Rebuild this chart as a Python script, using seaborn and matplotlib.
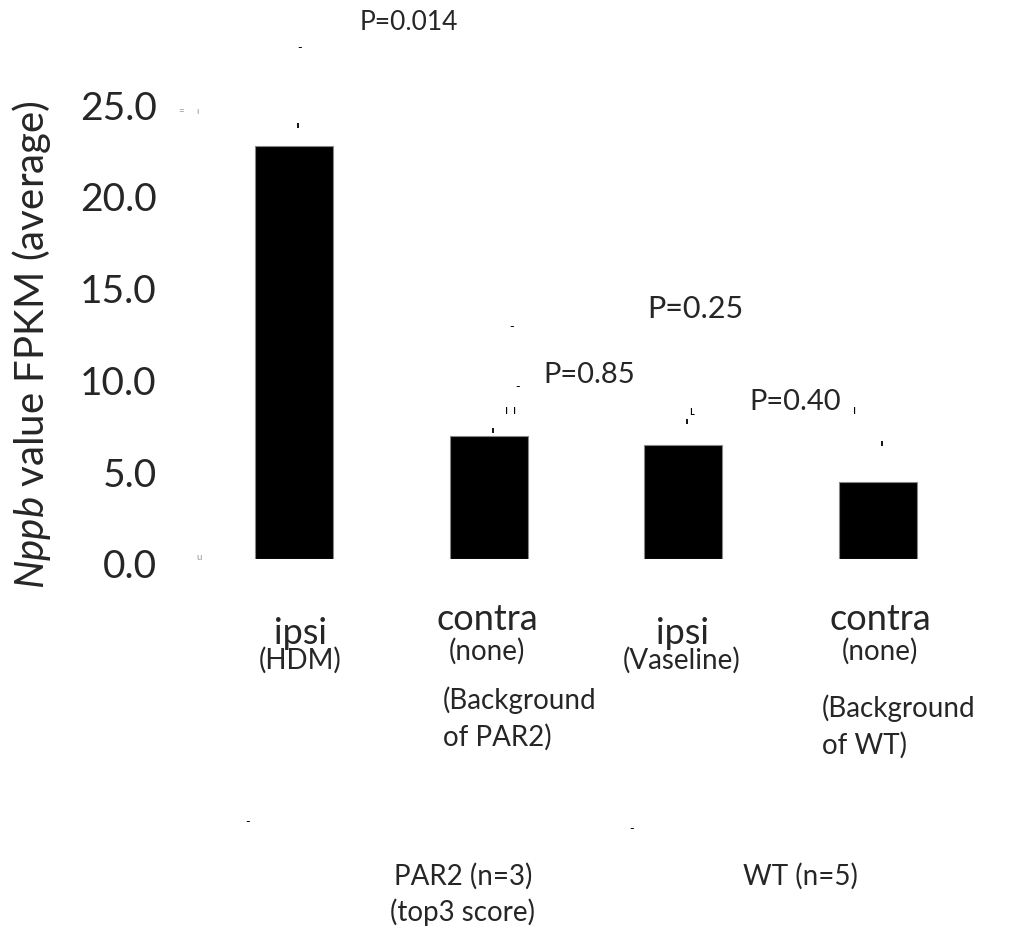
import numpy as np
import pandas as pd
import matplotlib
matplotlib.use("Agg")
import matplotlib.pyplot as plt
import matplotlib.transforms as mtransforms
import seaborn as sns

# dados
grupos = ["ipsi_HDM", "contra_PAR2", "ipsi_Vas", "contra_WT"]
valores = [22.5, 6.7, 6.2, 4.2]
erro_topo = [23.6, 7.0, 7.5, 6.3]
rotulo_principal = ["ipsi", "contra", "ipsi", "contra"]
rotulo_sub = ["(HDM)", "(none)", "(Vaseline)", "(none)"]
p_textos = ["P=0.014", "P=0.85", "P=0.25", "P=0.40"]
yticks = [0, 5, 10, 15, 20, 25]

df = pd.DataFrame({"grupo": grupos, "valor": valores})

sns.set_theme(style="white")
plt.rcParams["font.family"] = ["Lato", "DejaVu Sans"]
plt.rcParams["mathtext.fontset"] = "custom"
plt.rcParams["mathtext.rm"] = "Lato"
plt.rcParams["mathtext.it"] = "Lato:italic"

W, H = 1014, 936
fig = plt.figure(figsize=(W / 100, H / 100), dpi=100)
ax = fig.add_axes([197 / W, 1 - 559 / H, 778 / W, 550.8 / H])

def px(x, y):
    return x / W, 1 - y / H

sns.barplot(data=df, x="grupo", y="valor", color="black", width=0.4,
            edgecolor="#888888", linewidth=0.8, saturation=1, ax=ax)

# pequenas marcas do erro
for i, t in enumerate(erro_topo):
    ax.vlines(i + 0.02, t - 0.15, t + 0.15, color="black", lw=1.3)

ax.set_xlim(-0.5, 3.5)
ax.set_ylim(0, 30)
ax.set_yticks(yticks)
ax.set_yticklabels([f"{v:.1f}" for v in yticks], fontsize=28)
ax.tick_params(axis="y", length=0, pad=29)
desloc = mtransforms.ScaledTranslation(0, -5 / 100, fig.dpi_scale_trans)
for lab in ax.get_yticklabels():
    lab.set_transform(lab.get_transform() + desloc)
ax.set_xticks([])
ax.set_xlabel("")
ax.set_ylabel("")
sns.despine(ax=ax, left=True, bottom=True)

fig.text(*px(32, 345), r"$\mathit{Nppb}$ value FPKM (average)", rotation=90,
         fontsize=29, ha="center", va="center")

# rotulos das categorias
xs_cat = [300, 487, 682, 880]
for x, a, b in zip(xs_cat, rotulo_principal, rotulo_sub):
    ya = 633 if a == "ipsi" else 620
    yb = 660 if a == "ipsi" else 651
    fig.text(*px(x, ya), a, fontsize=26, ha="center", va="center")
    fig.text(*px(x, yb), b, fontsize=20, ha="center", va="center")

fig.text(*px(443, 700), "(Background", fontsize=20, ha="left", va="center")
fig.text(*px(443, 737), "of PAR2)", fontsize=20, ha="left", va="center")
fig.text(*px(822, 708), "(Background", fontsize=20, ha="left", va="center")
fig.text(*px(822, 745), "of WT)", fontsize=20, ha="left", va="center")

fig.text(*px(463, 876), "PAR2 (n=3)", fontsize=20, ha="center", va="center")
fig.text(*px(463, 912), "(top3 score)", fontsize=20, ha="center", va="center")
fig.text(*px(800, 876), "WT (n=5)", fontsize=20, ha="center", va="center")

# valores de P
p_pos = [(360, 22), (543, 375), (647, 309), (749, 402)]
p_tam = [19, 21, 22, 21]
for (x, y), t, s in zip(p_pos, p_textos, p_tam):
    fig.text(*px(x, y), t, fontsize=s, ha="left", va="center")

# restos de linhas do grafico original
marcas = [(300, 48, "-"), (512, 327, "-"), (518, 387, "-"), (248, 822, "-"),
          (632, 829, "-"), (507, 410, "ı"), (515, 410, "ı"), (692, 411, "ʟ"),
          (855, 410, "ı")]
for x, y, s in marcas:
    fig.text(*px(x, y), s, fontsize=9, ha="center", va="center", color="black")
fig.text(*px(181, 112), "=", fontsize=7, ha="center", va="center", color="#999999")
fig.text(*px(197, 112), "ı", fontsize=7, ha="center", va="center", color="#999999")
fig.text(*px(199, 557), "u", fontsize=7, ha="center", va="center", color="#999999")

fig.savefig("out.png", dpi=100)
